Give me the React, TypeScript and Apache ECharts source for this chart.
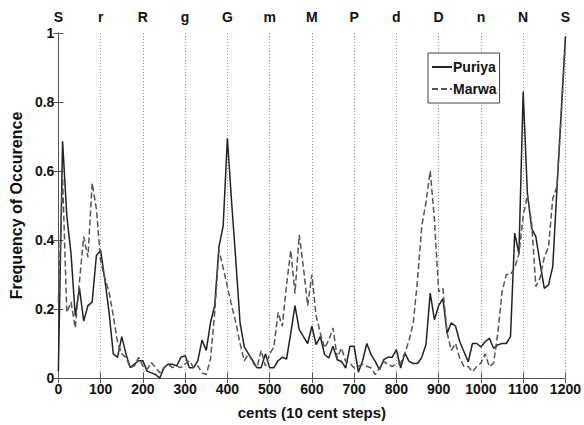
import React, { useEffect, useRef } from "react";
import * as echarts from "echarts";

const cents: number[] = Array.from({ length: 121 }, (_, i) => i * 10);

const swaraLabels: string[] = ["S", "r", "R", "g", "G", "m", "M", "P", "d", "D", "n", "N", "S"];

const puriya: number[] = [
  0.02, 0.686, 0.47, 0.36, 0.18, 0.26, 0.165, 0.21, 0.22, 0.355,
  0.37, 0.285, 0.19, 0.07, 0.06, 0.12, 0.07, 0.03, 0.04, 0.05,
  0.05, 0.02, 0.015, 0.01, 0.0, 0.03, 0.04, 0.04, 0.035, 0.06,
  0.065, 0.03, 0.03, 0.05, 0.11, 0.08, 0.16, 0.21, 0.38, 0.44,
  0.695, 0.51, 0.34, 0.16, 0.09, 0.07, 0.05, 0.03, 0.03, 0.07,
  0.03, 0.03, 0.05, 0.06, 0.055, 0.13, 0.21, 0.14, 0.12, 0.1,
  0.15, 0.097, 0.12, 0.068, 0.058, 0.092, 0.053, 0.048, 0.029, 0.092,
  0.092, 0.017, 0.05, 0.1, 0.068, 0.048, 0.024, 0.053, 0.06, 0.06,
  0.082, 0.029, 0.072, 0.048, 0.042, 0.042, 0.06, 0.097, 0.246, 0.169,
  0.21, 0.23, 0.13, 0.16, 0.15, 0.105, 0.076, 0.047, 0.1, 0.1,
  0.09, 0.105, 0.115, 0.086, 0.096, 0.1, 0.1, 0.12, 0.42, 0.36,
  0.83, 0.535, 0.434, 0.41, 0.332, 0.26, 0.27, 0.323, 0.55, 0.77,
  0.99,
];

const marwa: number[] = [
  0.22, 0.58, 0.19, 0.22, 0.145, 0.28, 0.41, 0.35, 0.565, 0.49,
  0.34, 0.29, 0.25, 0.18, 0.105, 0.07, 0.06, 0.03, 0.035, 0.06,
  0.035, 0.025, 0.045, 0.03, 0.015, 0.03, 0.04, 0.03, 0.035, 0.03,
  0.04, 0.05, 0.03, 0.035, 0.015, 0.01, 0.055, 0.19, 0.37, 0.32,
  0.265, 0.21, 0.16, 0.1, 0.05, 0.07, 0.045, 0.03, 0.08, 0.035,
  0.07, 0.09, 0.19, 0.15, 0.27, 0.37, 0.245, 0.415, 0.32, 0.21,
  0.3, 0.18, 0.13, 0.087, 0.11, 0.145, 0.058, 0.087, 0.048, 0.043,
  0.029, 0.034, 0.039, 0.034, 0.029, 0.01, 0.029, 0.048, 0.039, 0.034,
  0.039, 0.043, 0.072, 0.11, 0.16, 0.285, 0.44, 0.51, 0.6, 0.46,
  0.25, 0.26, 0.13, 0.08, 0.1, 0.057, 0.033, 0.033, 0.018, 0.033,
  0.043, 0.07, 0.033, 0.043, 0.13, 0.25, 0.3, 0.3, 0.32, 0.36,
  0.47, 0.53, 0.45, 0.265, 0.29, 0.35, 0.38, 0.52, 0.555, 0.76,
  0.98,
];

const FONT = "'Liberation Sans', Arial, sans-serif";

export default function App() {
  const ref = useRef<HTMLDivElement>(null);
  useEffect(() => {
    if (!ref.current) return;
    const chart = echarts.init(ref.current, undefined, { renderer: "svg" });
    const axisLine = { show: true, lineStyle: { color: "#555", width: 1 } };
    const tickIn = { show: true, inside: true, length: 5, lineStyle: { color: "#555" } };
    chart.setOption({
      animation: false,
      backgroundColor: "#fff",
      grid: { left: 43, right: 14, top: 33, bottom: 47, containLabel: false },
      legend: {
        orient: "vertical",
        left: 428,
        top: 53,
        backgroundColor: "#fff",
        borderColor: "#444",
        borderWidth: 1,
        borderRadius: 0,
        padding: [7, 3, 7, 3],
        itemGap: 8,
        itemWidth: 20,
        itemHeight: 12,
        itemStyle: { color: "transparent", borderWidth: 0 },
        textStyle: { fontFamily: FONT, fontWeight: "bold", fontSize: 14, color: "#111", padding: [0, 0, 0, -4] },
        data: ["Puriya", "Marwa"],
      },
      xAxis: [
        {
          type: "value",
          min: 0,
          max: 1200,
          interval: 100,
          position: "bottom",
          axisLine,
          axisTick: tickIn,
          axisLabel: {
            fontFamily: FONT,
            fontWeight: "bold",
            fontSize: 14,
            color: "#111",
            margin: 4,
            formatter: (v: number) => String(v),
          },
          splitLine: { show: true, lineStyle: { color: "#999", type: [1, 2], width: 1 } },
          name: "cents (10 cent steps)",
          nameLocation: "middle",
          nameGap: 27,
          nameTextStyle: { fontFamily: FONT, fontWeight: "bold", fontSize: 15, color: "#111" },
        },
        {
          type: "value",
          min: 0,
          max: 1200,
          interval: 100,
          position: "top",
          axisLine,
          axisTick: tickIn,
          axisLabel: {
            fontFamily: FONT,
            fontWeight: "bold",
            fontSize: 14,
            color: "#111",
            margin: 9,
            formatter: (v: number) => swaraLabels[Math.round(v / 100)] ?? "",
          },
          splitLine: { show: false },
        },
      ],
      yAxis: [
        {
          type: "value",
          min: 0,
          max: 1,
          interval: 0.2,
          position: "left",
          axisLine,
          axisTick: tickIn,
          axisLabel: { fontFamily: FONT, fontWeight: "bold", fontSize: 14, color: "#111", margin: 4 },
          splitLine: { show: false },
          name: "Frequency of Occurence",
          nameLocation: "middle",
          nameGap: 24,
          nameRotate: 90,
          nameTextStyle: { fontFamily: FONT, fontWeight: "bold", fontSize: 16, color: "#111" },
        },
        {
          type: "value",
          min: 0,
          max: 1,
          interval: 0.2,
          position: "right",
          axisLine,
          axisTick: tickIn,
          axisLabel: { show: false },
          splitLine: { show: false },
        },
      ],
      series: [
        {
          name: "Puriya",
          type: "line",
          xAxisIndex: 0,
          yAxisIndex: 0,
          symbol: "none",
          lineStyle: { color: "#222", width: 1.5, type: "solid" },
          itemStyle: { color: "#222" },
          data: cents.map((c, i) => [c, puriya[i]]),
        },
        {
          name: "Marwa",
          type: "line",
          xAxisIndex: 0,
          yAxisIndex: 0,
          symbol: "none",
          lineStyle: { color: "#555", width: 1.5, type: [6, 3] },
          itemStyle: { color: "#555" },
          data: cents.map((c, i) => [c, marwa[i]]),
        },
      ],
    });
    return () => chart.dispose();
  }, []);
  return <div ref={ref} style={{ width: 584, height: 425, position: "absolute", left: 0, top: 0 }} />;
}
